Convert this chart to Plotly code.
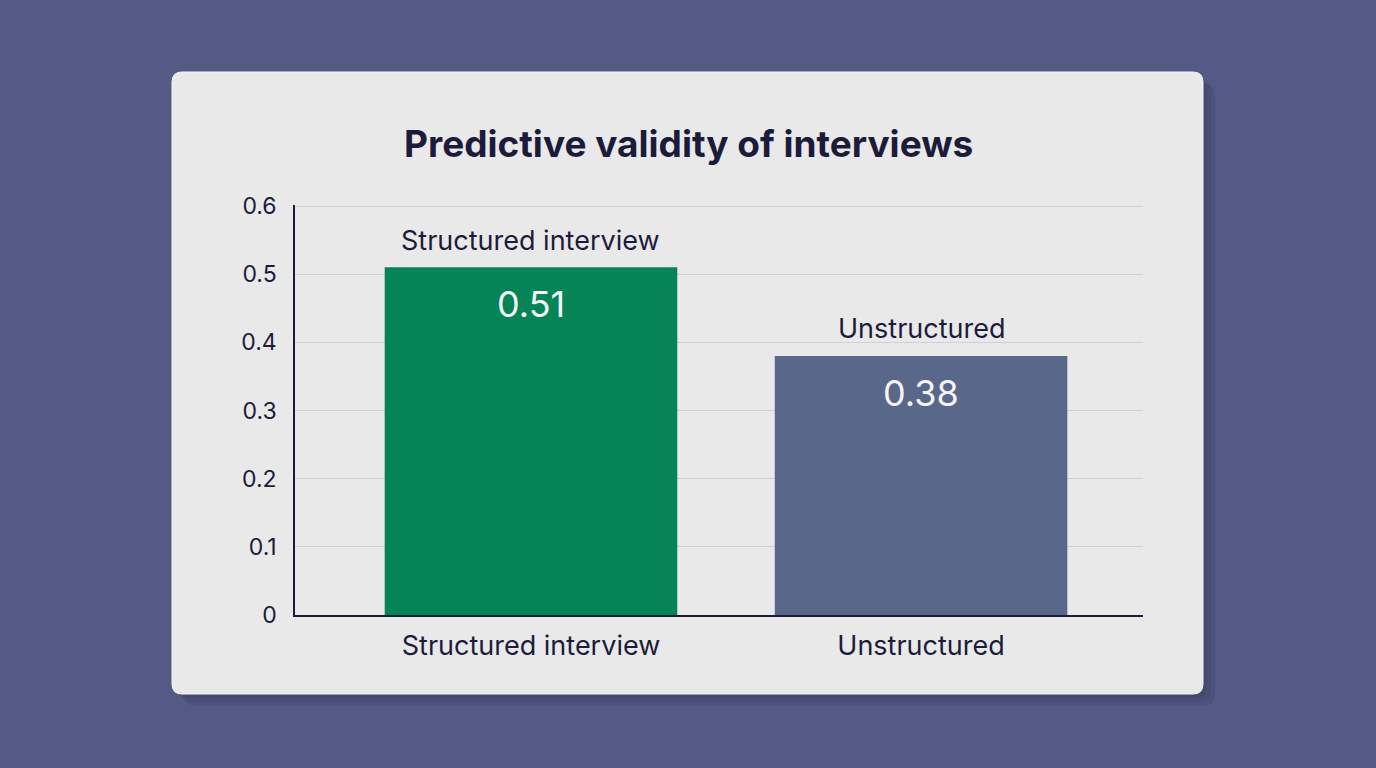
import plotly.graph_objects as go

categories = ["Structured interview", "Unstructured"]
values = [0.51, 0.38]
value_labels = ["0.51", "0.38"]
bar_colors = ["#058457", "#59678a"]
y_ticks = [0, 0.1, 0.2, 0.3, 0.4, 0.5, 0.6]
y_tick_text = ["0", "0.1", "0.2", "0.3", "0.4", "0.5", "0.6"]
title_text = "Predictive validity of interviews"

W, H = 1376, 768
L, R, T, B = 295, 1143, 205, 615
pw, ph = R - L, B - T

def px_to_paper(x, y):
    return (x - L) / pw, (B - y) / ph

def rounded_rect(x0, y0, x1, y1, r):
    ax0, ay0 = px_to_paper(x0, y0)
    ax1, ay1 = px_to_paper(x1, y1)
    rx, ry = r / pw, r / ph
    return (f"M {ax0+rx},{ay0} L {ax1-rx},{ay0} Q {ax1},{ay0} {ax1},{ay0-ry} "
            f"L {ax1},{ay1+ry} Q {ax1},{ay1} {ax1-rx},{ay1} "
            f"L {ax0+rx},{ay1} Q {ax0},{ay1} {ax0},{ay1+ry} "
            f"L {ax0},{ay0-ry} Q {ax0},{ay0} {ax0+rx},{ay0} Z")

fig = go.Figure()
fig.add_trace(go.Bar(
    x=categories, y=values, width=0.75,
    marker=dict(color=bar_colors, line=dict(width=0)),
    hoverinfo="skip", showlegend=False,
))

shapes = []
for i, op in enumerate([0.10, 0.10, 0.10]):
    off = 4 + i * 4
    shapes.append(dict(type="path", xref="paper", yref="paper",
                       path=rounded_rect(172 + off, 72 + off, 1203 + off, 694 + off, 12),
                       fillcolor="#1c1f40", opacity=op, line=dict(width=0), layer="below"))
shapes.append(dict(type="path", xref="paper", yref="paper",
                   path=rounded_rect(172, 72, 1203, 694, 10),
                   fillcolor="#e9e9ea", line=dict(color="#f4f4f6", width=1), layer="below"))
fig.update_layout(shapes=shapes)

annotations = []
for c, v, lbl in zip(categories, values, value_labels):
    annotations.append(dict(x=c, y=v, xref="x", yref="y", text=c, showarrow=False,
                            yshift=27, font=dict(size=27, color="#1c1c3a", family="Inter")))
    annotations.append(dict(x=c, y=v, xref="x", yref="y", text=lbl, showarrow=False,
                            yshift=-37, font=dict(size=36, color="#f4f4f6", family="Inter")))
tx, ty = px_to_paper(688, 143)
annotations.append(dict(x=tx, y=ty, xref="paper", yref="paper", text=f"<b>{title_text}</b>",
                        showarrow=False, xanchor="center", yanchor="middle",
                        font=dict(size=37, color="#1c1c3a", family="Inter")))
fig.update_layout(annotations=annotations)

fig.update_layout(
    width=W, height=H,
    margin=dict(l=L, r=W - R, t=T, b=H - B, pad=0),
    paper_bgcolor="#545a85",
    plot_bgcolor="rgba(0,0,0,0)",
    font=dict(family="Inter", color="#1c1c3a"),
    xaxis=dict(
        range=[-0.605, 1.569], showgrid=False, zeroline=False,
        showline=True, linecolor="#1c1c3a", linewidth=1.5,
        tickfont=dict(size=27, color="#1c1c3a"), ticks="", ticklabelstandoff=6,
        fixedrange=True,
    ),
    yaxis=dict(
        range=[0, 0.6015], tickvals=y_ticks, ticktext=y_tick_text,
        showgrid=True, gridcolor="#cfcfd6", gridwidth=1, zeroline=False,
        showline=True, linecolor="#1c1c3a", linewidth=1.5,
        tickfont=dict(size=23, color="#1c1c3a"), ticks="", ticklabelstandoff=12,
        fixedrange=True,
    ),
)

fig.write_html("out.html")
